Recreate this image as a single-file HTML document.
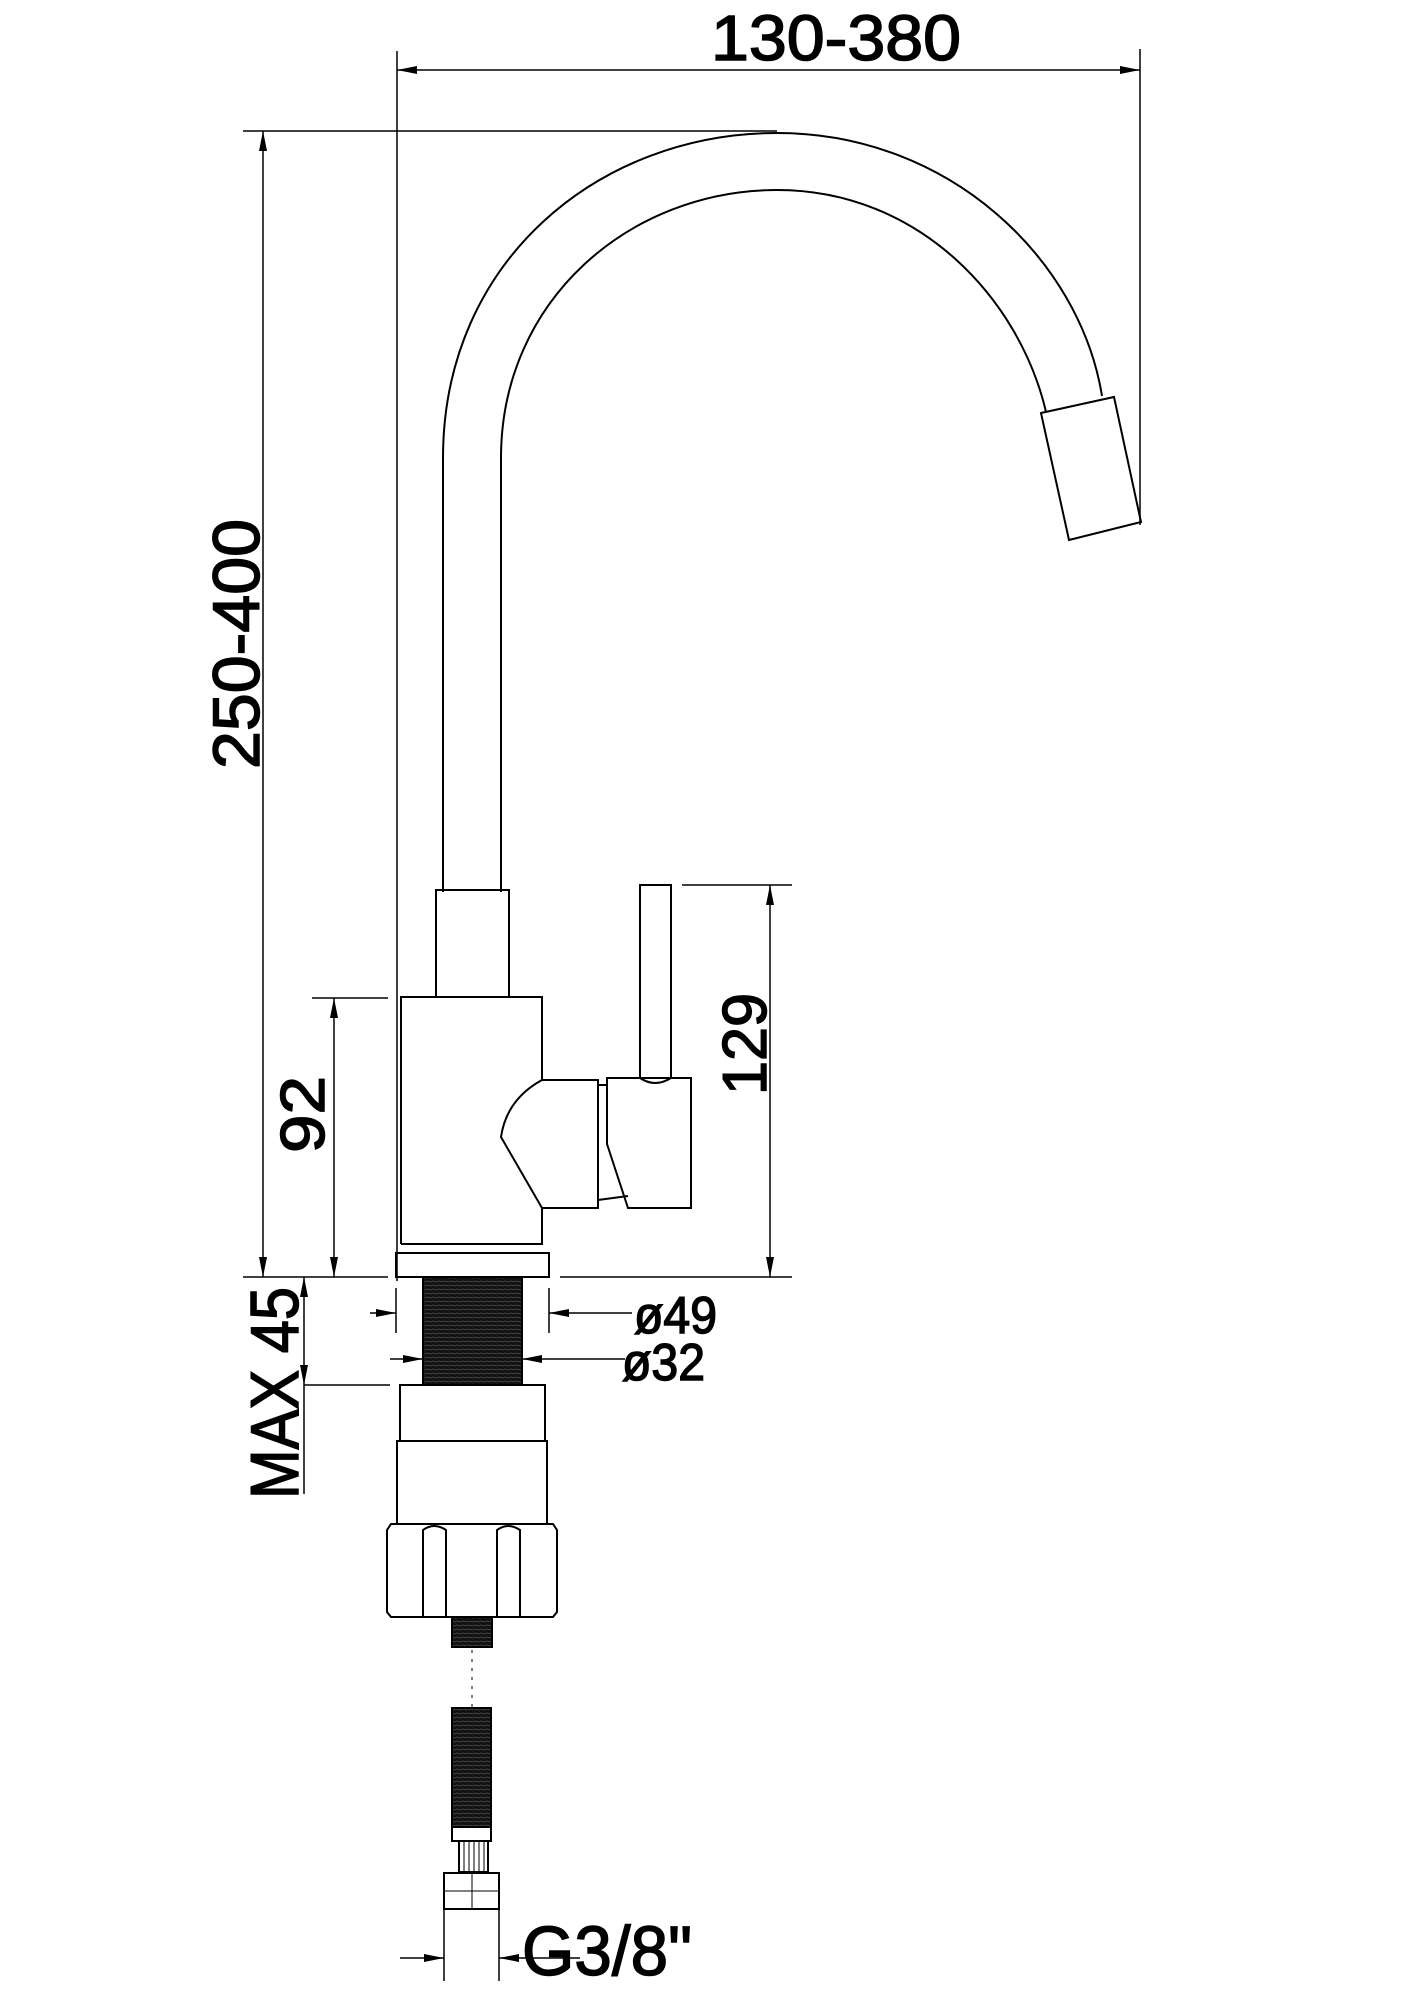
<!DOCTYPE html>
<html><head><meta charset="utf-8"><style>
html,body{margin:0;padding:0;background:#fff;}
svg{display:block;}
text{font-family:"Liberation Sans Narrow","Liberation Sans",sans-serif;fill:#000;stroke:#000;stroke-width:1.5;}
</style></head><body>
<svg width="1409" height="2000" viewBox="0 0 1409 2000" xmlns="http://www.w3.org/2000/svg">
<defs>
<marker id="a" viewBox="0 0 20 8" refX="20" refY="4" markerWidth="20" markerHeight="8" markerUnits="userSpaceOnUse" orient="auto-start-reverse">
<path d="M0,0 L20,4 L0,8 Z" fill="#000"/></marker>
<pattern id="thr" width="6" height="4" patternUnits="userSpaceOnUse">
<rect width="6" height="4" fill="#111"/><line x1="0" y1="1" x2="6" y2="2" stroke="#555" stroke-width="0.8"/></pattern>
</defs>
<g stroke="#000" stroke-width="2" fill="none">
<line x1="397" y1="51" x2="397" y2="1281" stroke-width="1.5"/>
<line x1="1140" y1="49" x2="1140" y2="525" stroke-width="1.5"/>
<line x1="397" y1="70" x2="1140" y2="70" marker-start="url(#a)" marker-end="url(#a)" stroke-width="1.5"/>
<line x1="243" y1="131" x2="777" y2="131" stroke-width="1.5"/>
<line x1="263" y1="131" x2="263" y2="1277" marker-start="url(#a)" marker-end="url(#a)" stroke-width="1.5"/>
<path d="M443,892 L443,458 C443,260 600,133 777,133 C950,133 1080,260 1102,396"/>
<path d="M501,892 L501,458 C501,300 630,190 777,190 C920,190 1020,300 1046,412"/>
<polygon points="1041,413 1114,397 1141,522 1069,540"/>
<rect x="436" y="890" width="73" height="107"/>
<path d="M401,1244 L401,997 L542,997 L542,1080"/>
<path d="M542,1208 L542,1244 L401,1244"/>
<path d="M542,1080 L598,1080 L598,1208 L542,1208 L501,1137 C505,1110 520,1092 542,1080 Z"/>
<path d="M598,1085 L607,1085 M598,1200 L628,1196"/>
<path d="M607,1078 L691,1078 L691,1208 L628,1208 L607,1144 Z"/>
<path d="M640,1078 L640,885 L671,885 L671,1078"/>
<path d="M640,1078 Q655,1088 671,1078"/>
<rect x="396" y="1253" width="153" height="24"/>
<line x1="682" y1="885" x2="792" y2="885" stroke-width="1.5"/>
<line x1="770" y1="885" x2="770" y2="1277" marker-start="url(#a)" marker-end="url(#a)" stroke-width="1.5"/>
<line x1="560" y1="1277" x2="792" y2="1277" stroke-width="1.5"/>
<line x1="312" y1="998" x2="388" y2="998" stroke-width="1.5"/>
<line x1="334" y1="998" x2="334" y2="1277" marker-start="url(#a)" marker-end="url(#a)" stroke-width="1.5"/>
<line x1="243" y1="1277" x2="388" y2="1277" stroke-width="1.5"/>
<line x1="304" y1="1277" x2="304" y2="1385" marker-start="url(#a)" marker-end="url(#a)" stroke-width="1.5"/>
<line x1="304" y1="1385" x2="304" y2="1494" stroke-width="1.5"/>
<line x1="304" y1="1385" x2="390" y2="1385" stroke-width="1.5"/>
<rect x="423" y="1277" width="99" height="108" fill="url(#thr)"/>
<line x1="396" y1="1288" x2="396" y2="1333" stroke-width="1.5"/>
<line x1="549" y1="1288" x2="549" y2="1333" stroke-width="1.5"/>
<line x1="370" y1="1313" x2="396" y2="1313" marker-end="url(#a)" stroke-width="1.5"/>
<line x1="632" y1="1313" x2="549" y2="1313" marker-end="url(#a)" stroke-width="1.5"/>
<line x1="390" y1="1359" x2="423" y2="1359" marker-end="url(#a)" stroke-width="1.5"/>
<line x1="625" y1="1359" x2="522" y2="1359" marker-end="url(#a)" stroke-width="1.5"/>
<rect x="400" y="1385" width="145" height="56"/>
<rect x="397" y="1441" width="150" height="83"/>
<path d="M391,1524 L553,1524 L557,1530 L557,1612 L553,1617 L391,1617 L387,1612 L387,1530 Z"/>
<path d="M423,1617 L423,1530 Q434,1522 446,1530 L446,1617"/>
<path d="M497,1617 L497,1530 Q508,1522 520,1530 L520,1617"/>
<rect x="452" y="1617" width="40" height="30" fill="url(#thr)"/>
<line x1="472" y1="1650" x2="472" y2="1708" stroke-dasharray="3,6" stroke-width="1"/>
<rect x="452" y="1708" width="39" height="119" fill="url(#thr)"/>
<rect x="452" y="1827" width="39" height="14" fill="#fff"/>
<rect x="459" y="1841" width="29" height="31" fill="#fff"/>
<path d="M464,1841 V1872 M469,1841 V1872 M474,1841 V1872 M479,1841 V1872 M484,1841 V1872" stroke-width="1"/>
<rect x="444" y="1873" width="55" height="36" fill="#fff"/>
<path d="M444,1891 H499 M472,1873 V1909" stroke-width="1"/>
<line x1="444" y1="1909" x2="444" y2="1981" stroke-width="1.5"/>
<line x1="499" y1="1909" x2="499" y2="1981" stroke-width="1.5"/>
<line x1="400" y1="1958" x2="444" y2="1958" marker-end="url(#a)" stroke-width="1.5"/>
<line x1="580" y1="1958" x2="499" y2="1958" marker-end="url(#a)" stroke-width="1.5"/>
</g>
<text x="711" y="60" font-size="64" textLength="250" lengthAdjust="spacingAndGlyphs">130-380</text>
<text transform="translate(259,769) rotate(-90)" font-size="66" textLength="250" lengthAdjust="spacingAndGlyphs">250-400</text>
<text transform="translate(766,1095) rotate(-90)" font-size="62" textLength="102" lengthAdjust="spacingAndGlyphs">129</text>
<text transform="translate(324,1153) rotate(-90)" font-size="62" textLength="77" lengthAdjust="spacingAndGlyphs">92</text>
<text transform="translate(298,1499) rotate(-90)" font-size="68" textLength="212" lengthAdjust="spacingAndGlyphs">MAX 45</text>
<text x="634" y="1333" font-size="52" textLength="83" lengthAdjust="spacingAndGlyphs">ø49</text>
<text x="622" y="1380" font-size="52" textLength="83" lengthAdjust="spacingAndGlyphs">ø32</text>
<text x="522" y="1975" font-size="70" textLength="170" lengthAdjust="spacingAndGlyphs">G3/8"</text>
</svg>
</body></html>
